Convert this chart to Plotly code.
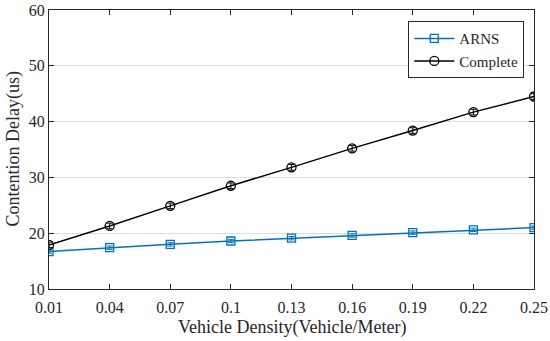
import plotly.graph_objects as go

density = [0.01, 0.04, 0.07, 0.1, 0.13, 0.16, 0.19, 0.22, 0.25]
density_labels = ["0.01", "0.04", "0.07", "0.1", "0.13", "0.16", "0.19", "0.22", "0.25"]
arns = [16.7, 17.4, 18.0, 18.6, 19.1, 19.6, 20.1, 20.6, 21.0]
arns_err = [0.3, 0.3, 0.3, 0.3, 0.3, 0.3, 0.3, 0.3, 0.3]
complete = [17.9, 21.3, 24.9, 28.5, 31.8, 35.2, 38.4, 41.7, 44.5]
complete_err = [0.5, 0.5, 0.5, 0.5, 0.5, 0.5, 0.5, 0.5, 0.5]

blue = "#0072BD"
ink = "#262626"
fig = go.Figure()
fig.add_trace(go.Scatter(
    x=density, y=arns, name="ARNS", mode="lines+markers",
    line=dict(color=blue, width=1.5),
    marker=dict(symbol="square-open", size=8, color=blue, line=dict(width=1.3)),
    error_y=dict(type="data", array=arns_err, color=blue, thickness=1, width=3),
))
fig.add_trace(go.Scatter(
    x=density, y=complete, name="Complete", mode="lines+markers",
    line=dict(color="black", width=1.5),
    marker=dict(symbol="circle-open", size=9, color="black", line=dict(width=1.3)),
    error_y=dict(type="data", array=complete_err, color="black", thickness=1, width=3),
))

font = "Liberation Serif, Times New Roman, serif"
fig.update_layout(
    width=550, height=341,
    margin=dict(l=49, r=16, t=10, b=52, autoexpand=False),
    paper_bgcolor="white", plot_bgcolor="white",
    font=dict(family=font, size=16, color=ink),
    showlegend=True,
    legend=dict(x=0.98, y=0.96, xanchor="right", yanchor="top",
                bordercolor=ink, borderwidth=1, bgcolor="white",
                font=dict(family=font, size=15, color=ink),
                tracegroupgap=0, itemwidth=40),
    xaxis=dict(
        range=[0.01, 0.25], tickmode="array", tickvals=density, ticktext=density_labels,
        showgrid=False, zeroline=False, automargin=False,
        showline=True, linecolor=ink, linewidth=1, mirror="ticks",
        ticks="inside", ticklen=5, tickcolor=ink, ticklabelstandoff=4,
    ),
    yaxis=dict(
        range=[10, 60], tickvals=[10, 20, 30, 40, 50, 60],
        showgrid=True, gridcolor="#dcdcdc", gridwidth=1, zeroline=False, automargin=False,
        showline=True, linecolor=ink, linewidth=1, mirror="ticks",
        ticks="inside", ticklen=5, tickcolor=ink,
    ),
    annotations=[
        dict(text="Vehicle Density(Vehicle/Meter)", xref="paper", yref="paper",
             x=0.5, y=0, yshift=-38, xanchor="center", yanchor="middle",
             showarrow=False, font=dict(family=font, size=18, color=ink)),
        dict(text="Contention Delay(us)", xref="paper", yref="paper",
             x=0, y=0.5, xshift=-36, xanchor="center", yanchor="middle", textangle=-90,
             showarrow=False, font=dict(family=font, size=18, color=ink)),
    ],
)
fig.write_html("out.html", config={"displayModeBar": False},
               post_script="document.body.style.margin='0px';document.body.style.overflow='hidden';")
